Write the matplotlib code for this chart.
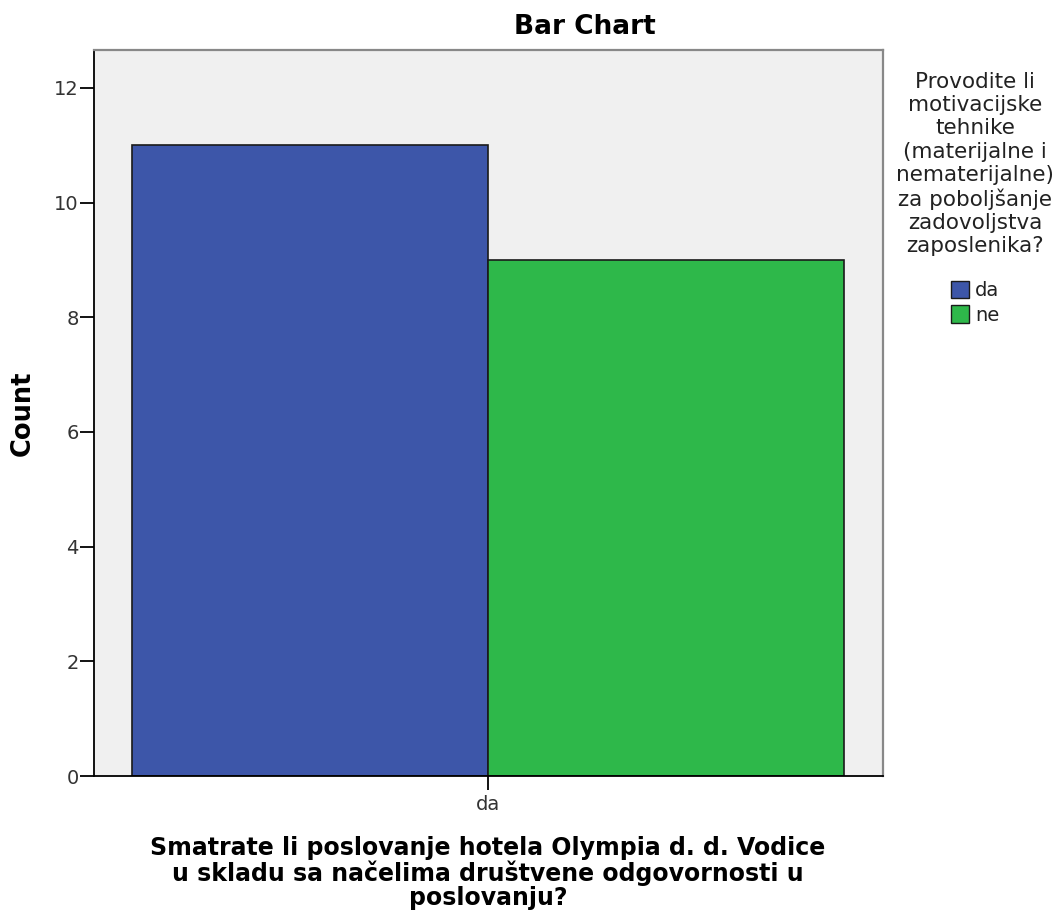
import numpy as np
import matplotlib.pyplot as plt
from matplotlib.patches import Patch

# Data
categories = ['da']
series_names = ['da', 'ne']
counts = [11, 9]
colors = ['#3D56A9', '#2EB84A']

W, H = 1058, 921
fig = plt.figure(figsize=(W / 100, H / 100), dpi=100)
ax = fig.add_axes([94 / W, 1 - 776 / H, (883 - 94) / W, (776 - 50) / H])
ax.set_facecolor('#F0F0F0')

# Two bars side by side around the single category
bar_w = 1.0
offsets = [-0.5, 0.5]
for name, val, col, off in zip(series_names, counts, colors, offsets):
    ax.bar(0 + off, val, width=bar_w, color=col, edgecolor='#1a1a1a', linewidth=1.2)

ax.set_xlim(-1.107, 1.110)
ax.set_ylim(0, 12.66)
ax.set_yticks([0, 2, 4, 6, 8, 10, 12])
ax.set_xticks([0])
ax.set_xticklabels(categories)
ax.tick_params(axis='both', labelsize=14, length=10, width=1.3,
               color='black', labelcolor='#333333')
ax.tick_params(axis='y', pad=1)
ax.tick_params(axis='x', pad=4)

for s in ['left', 'bottom']:
    ax.spines[s].set_color('black')
    ax.spines[s].set_linewidth(1.3)
for s in ['top', 'right']:
    ax.spines[s].set_color('#888888')
    ax.spines[s].set_linewidth(1.6)

fig.text(585 / W, 1 - 27 / H, 'Bar Chart', ha='center', va='center',
         fontsize=19, fontweight='bold')
fig.text(23 / W, 1 - 413 / H, 'Count', ha='center', va='center', rotation=90,
         fontsize=18.5, fontweight='bold')
fig.text(488 / W, 1 - 873 / H,
         'Smatrate li poslovanje hotela Olympia d. d. Vodice\n'
         'u skladu sa načelima društvene odgovornosti u\n'
         'poslovanju?',
         ha='center', va='center', fontsize=17, fontweight='bold',
         linespacing=1.02)

# Legend
handles = [Patch(facecolor=c, edgecolor='#1a1a1a', label=n) for n, c in zip(series_names, colors)]
fig.text(975 / W, 1 - 164 / H,
         'Provodite li\nmotivacijske\ntehnike\n(materijalne i\nnematerijalne)\nza poboljšanje\nzadovoljstva\nzaposlenika?',
         ha='center', va='center', fontsize=15.5, linespacing=1.2, color='#222222')
leg = fig.legend(handles=handles, loc='upper left', bbox_to_anchor=(951 / W, 1 - 281 / H),
                 frameon=False, fontsize=14, handlelength=0.95, handleheight=1.0,
                 handletextpad=0.3, labelspacing=0.25, borderpad=0, borderaxespad=0)
for t in leg.get_texts():
    t.set_color('#222222')

fig.savefig('out.png', dpi=100)
